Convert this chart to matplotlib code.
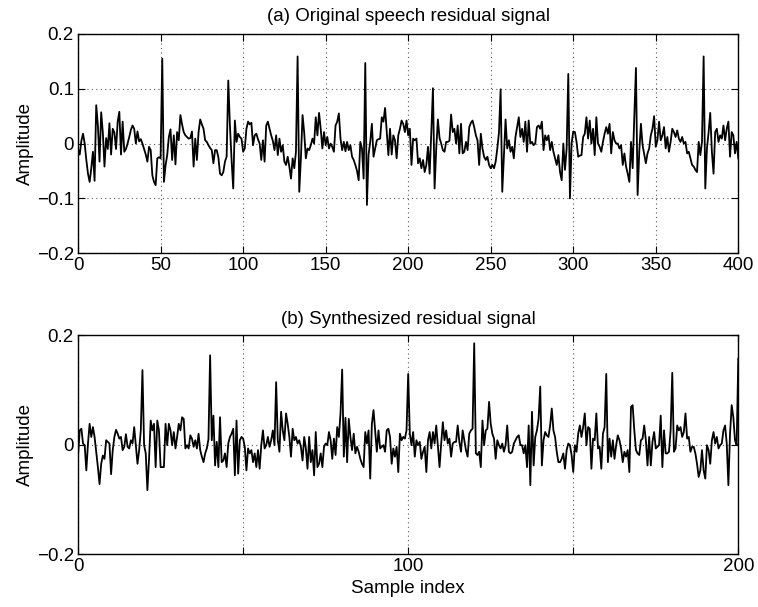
import numpy as np
import matplotlib
matplotlib.use("Agg")
import matplotlib.pyplot as plt

plt.rcParams['font.family'] = ['Liberation Sans', 'DejaVu Sans']
plt.rcParams['font.size'] = 13.5

# (a) original speech residual, one value per sample index 0..400
orig = [
    -0.010, -0.020, 0.005, 0.018, 0.000, -0.030, -0.055, -0.070, -0.045, -0.015,
    -0.068, 0.070, 0.033, -0.033, 0.057, 0.020, -0.042, 0.010, -0.010, 0.037,
    -0.020, 0.027, 0.020, -0.010, 0.040, 0.058, -0.020, 0.040, -0.015, -0.010,
    0.000, 0.012, 0.025, 0.033, 0.027, 0.000, 0.022, 0.004, 0.008, 0.000,
    -0.010, -0.020, -0.033, -0.006, -0.012, -0.058, -0.070, -0.076, -0.027, -0.025,
    -0.027, 0.155, -0.070, -0.040, -0.021, 0.012, 0.026, -0.030, 0.015, -0.038,
    0.021, 0.006, 0.052, 0.035, 0.021, 0.015, 0.012, 0.009, 0.010, 0.022,
    -0.042, 0.009, -0.030, 0.021, 0.044, 0.035, 0.027, 0.006, 0.003, -0.003,
    -0.008, -0.012, -0.036, -0.012, -0.012, -0.025, -0.055, -0.058, -0.052, -0.033,
    -0.024, 0.115, 0.033, -0.030, -0.082, 0.042, 0.003, 0.018, 0.012, 0.009,
    -0.015, -0.009, 0.027, 0.040, 0.035, 0.038, -0.003, 0.015, 0.018, 0.008,
    0.000, -0.030, 0.006, -0.033, 0.033, 0.040, 0.027, 0.015, 0.005, -0.012,
    0.015, -0.021, 0.009, -0.015, -0.003, -0.033, -0.039, -0.024, -0.042, -0.064,
    -0.027, -0.045, -0.015, 0.159, -0.088, -0.027, 0.052, 0.020, -0.027, -0.009,
    -0.012, -0.003, 0.009, 0.000, 0.048, 0.015, 0.056, 0.027, -0.009, 0.021,
    -0.003, 0.012, -0.009, 0.000, -0.006, -0.015, 0.033, 0.040, 0.055, 0.009,
    -0.012, 0.003, -0.014, 0.003, -0.012, -0.003, -0.024, -0.030, -0.039, -0.050,
    -0.067, 0.003, -0.009, -0.064, 0.147, -0.112, -0.020, 0.003, 0.036, -0.024,
    -0.009, 0.006, 0.008, 0.009, 0.048, 0.040, 0.065, 0.021, -0.021, 0.027,
    -0.020, 0.015, 0.006, -0.027, 0.015, 0.027, 0.042, 0.036, 0.021, 0.042,
    0.015, 0.027, -0.039, 0.009, 0.006, 0.009, -0.036, -0.027, -0.045, -0.030,
    -0.052, -0.039, -0.006, -0.055, 0.020, 0.101, -0.082, -0.009, 0.044, 0.010,
    0.000, -0.012, -0.015, 0.003, 0.003, 0.005, 0.053, 0.021, 0.027, 0.000,
    0.033, -0.018, 0.036, -0.018, -0.015, 0.003, -0.012, 0.030, 0.038, 0.042,
    0.030, 0.015, 0.006, -0.039, 0.018, -0.009, -0.024, -0.030, -0.024, -0.039,
    -0.045, -0.039, -0.045, -0.033, -0.009, 0.020, 0.099, -0.088, -0.024, 0.044,
    -0.009, 0.006, -0.015, -0.006, -0.027, 0.012, 0.030, 0.048, 0.012, 0.027,
    0.003, 0.040, -0.015, 0.042, 0.000, 0.003, -0.003, 0.000, 0.030, 0.033,
    0.027, 0.040, -0.012, 0.015, 0.006, 0.015, -0.012, 0.003, -0.015, -0.027,
    -0.039, -0.021, -0.052, -0.067, 0.000, -0.048, -0.009, 0.127, -0.100, 0.000,
    0.022, 0.021, 0.003, -0.024, -0.022, -0.021, 0.012, 0.018, 0.048, 0.009,
    0.042, 0.000, 0.027, -0.021, 0.048, 0.000, -0.006, -0.015, 0.003, 0.018,
    0.030, 0.018, 0.036, -0.018, 0.021, 0.006, 0.000, 0.000, -0.009, -0.003,
    -0.039, -0.018, -0.042, -0.055, -0.070, 0.003, -0.045, 0.050, 0.138, -0.094,
    -0.015, 0.036, -0.003, -0.020, -0.036, -0.018, -0.009, 0.015, 0.027, 0.050,
    -0.006, 0.006, 0.040, 0.006, 0.015, 0.030, -0.009, 0.012, -0.015, 0.003,
    0.027, 0.021, 0.012, 0.024, 0.009, 0.003, 0.012, 0.000, 0.003, -0.018,
    -0.015, -0.027, -0.039, -0.042, -0.048, -0.052, 0.003, -0.021, 0.003, 0.159,
    -0.082, -0.009, 0.020, 0.056, -0.015, -0.055, 0.021, 0.027, 0.003, 0.015,
    0.009, 0.033, 0.006, 0.027, 0.040, -0.024, 0.021, 0.015, -0.018, 0.003,
    -0.027,
]

# (b) synthesized residual, two values per sample index 0..200
synth = [
    -0.019, 0.026, 0.029, 0.002, -0.001, -0.047, 0.002, 0.038, 0.014, 0.032,
    0.014, -0.013, -0.041, -0.072, -0.035, -0.020, -0.026, 0.008, 0.005, 0.002,
    -0.054, -0.010, 0.014, 0.027, 0.020, 0.011, 0.014, -0.010, -0.004, 0.019,
    -0.004, -0.007, 0.008, 0.002, 0.032, -0.001, -0.035, -0.010, 0.026, 0.136,
    -0.001, -0.016, -0.083, -0.026, 0.044, 0.026, 0.038, -0.041, 0.044, 0.026,
    -0.041, -0.041, -0.041, 0.038, -0.001, 0.038, 0.026, -0.001, 0.023, -0.007,
    0.014, 0.038, 0.026, 0.050, 0.047, -0.007, -0.001, -0.007, 0.017, 0.011,
    -0.004, 0.008, -0.007, 0.020, -0.010, -0.022, -0.032, -0.016, -0.007, 0.010,
    0.163, 0.008, 0.053, -0.038, 0.005, -0.041, 0.050, -0.032, -0.029, -0.016,
    -0.041, 0.002, 0.014, 0.020, 0.029, -0.056, 0.044, -0.053, 0.008, 0.014,
    0.011, -0.004, -0.047, -0.007, -0.016, -0.010, -0.032, -0.016, -0.041, -0.010,
    -0.044, -0.001, 0.026, -0.007, -0.001, 0.014, -0.004, 0.008, 0.026, -0.001,
    0.114, 0.008, -0.013, 0.060, 0.026, 0.008, 0.057, 0.038, 0.014, -0.022,
    0.029, 0.008, 0.014, 0.002, 0.008, -0.004, -0.029, 0.014, -0.007, -0.044,
    0.014, -0.032, -0.010, -0.056, 0.023, -0.041, -0.035, -0.016, -0.041, -0.004,
    0.002, -0.001, 0.023, 0.008, -0.026, 0.011, -0.019, 0.032, 0.014, 0.057,
    0.137, -0.022, 0.049, -0.032, 0.047, 0.014, -0.010, 0.020, -0.016, -0.004,
    -0.013, -0.026, -0.035, -0.041, 0.023, 0.002, 0.026, -0.062, 0.038, 0.063,
    0.026, -0.013, 0.026, -0.007, -0.004, -0.001, -0.013, 0.026, 0.029, 0.014,
    -0.035, -0.007, -0.022, -0.004, -0.050, 0.020, 0.008, 0.014, 0.011, 0.026,
    0.129, 0.020, -0.001, 0.023, -0.022, 0.008, -0.001, 0.005, -0.026, -0.013,
    -0.004, -0.050, 0.008, 0.023, -0.007, 0.023, 0.002, 0.035, -0.004, -0.041,
    0.002, 0.041, 0.008, 0.026, 0.002, 0.011, -0.022, 0.002, 0.005, 0.005,
    0.035, 0.005, -0.013, 0.026, 0.008, -0.010, -0.022, 0.020, 0.026, 0.029,
    0.185, -0.016, -0.019, -0.013, -0.041, 0.044, -0.001, 0.026, 0.029, 0.078,
    0.038, 0.020, 0.011, -0.026, 0.008, -0.001, -0.007, 0.002, -0.013, -0.001,
    0.035, -0.013, -0.016, -0.013, 0.002, 0.008, 0.014, 0.017, -0.001, -0.001,
    -0.016, -0.001, -0.041, 0.035, -0.074, 0.060, -0.038, 0.014, 0.026, 0.047,
    0.106, -0.038, 0.008, 0.023, 0.017, 0.014, 0.035, 0.066, 0.026, 0.014,
    -0.013, -0.032, -0.032, -0.026, -0.016, -0.044, -0.010, 0.002, -0.001, -0.019,
    -0.050, -0.001, -0.013, 0.020, 0.035, 0.014, 0.032, 0.057, -0.001, 0.032,
    0.029, -0.044, 0.011, 0.008, 0.057, -0.007, -0.004, -0.044, 0.020, 0.032,
    0.129, -0.032, 0.011, -0.022, 0.008, -0.026, -0.001, 0.017, 0.008, -0.007,
    -0.032, -0.013, -0.022, -0.010, -0.050, 0.069, 0.072, 0.026, -0.010, -0.016,
    -0.019, 0.008, 0.011, 0.035, 0.008, -0.038, 0.014, -0.038, 0.005, 0.023,
    -0.007, -0.004, -0.001, 0.053, -0.041, 0.026, -0.016, -0.016, -0.013, 0.026,
    0.131, -0.013, -0.007, 0.035, 0.026, 0.032, 0.014, 0.023, 0.057, 0.011,
    0.014, -0.013, -0.004, -0.004, -0.016, -0.035, -0.059, -0.047, -0.010, -0.047,
    -0.062, -0.001, -0.010, -0.035, 0.008, 0.023, 0.002, 0.014, -0.007, -0.001,
    0.002, 0.026, 0.035, 0.002, -0.074, 0.020, 0.072, 0.050, 0.008, -0.001,
    0.157,
]

top_xticks = [0, 50, 100, 150, 200, 250, 300, 350, 400]
top_yticks = [-0.2, -0.1, 0, 0.1, 0.2]
top_ylabels = ['\u22120.2', '\u22120.1', '0', '0.1', '0.2']
bot_xticks = [0, 50, 100, 150, 200]
bot_xlabels = ['0', '', '100', '', '200']
bot_yticks = [-0.2, 0, 0.2]
bot_ylabels = ['\u22120.2', '0', '0.2']


def style_axes(ax):
    ax.tick_params(direction='in', top=True, right=True, length=5, width=0.8, pad=3)
    ax.grid(True, linestyle=(0, (1, 3)), color='0.35', linewidth=0.8)
    for s in ax.spines.values():
        s.set_linewidth(1.0)


fig = plt.figure(figsize=(7.58, 6.07), dpi=100)

ax1 = fig.add_axes([0.103, 0.583, 0.871, 0.361])
ax1.plot(np.arange(len(orig)), orig, color='k', linewidth=1.3)
ax1.set_xlim(0, 400)
ax1.set_ylim(-0.2, 0.2)
ax1.set_xticks(top_xticks)
ax1.set_yticks(top_yticks)
ax1.set_yticklabels(top_ylabels)
ax1.set_ylabel('Amplitude', labelpad=2)
ax1.set_title('(a) Original speech residual signal', fontsize=13.5, pad=9)
style_axes(ax1)

ax2 = fig.add_axes([0.103, 0.087, 0.871, 0.361])
ax2.plot(np.arange(len(synth)) * 0.5, synth, color='k', linewidth=1.3)
ax2.set_xlim(0, 200)
ax2.set_ylim(-0.2, 0.2)
ax2.set_xticks(bot_xticks)
ax2.set_xticklabels(bot_xlabels)
ax2.set_yticks(bot_yticks)
ax2.set_yticklabels(bot_ylabels)
ax2.set_ylabel('Amplitude', labelpad=2)
ax2.set_xlabel('Sample index', labelpad=3)
ax2.set_title('(b) Synthesized residual signal', fontsize=13.5, pad=8)
style_axes(ax2)

fig.savefig('out.png', dpi=100)
